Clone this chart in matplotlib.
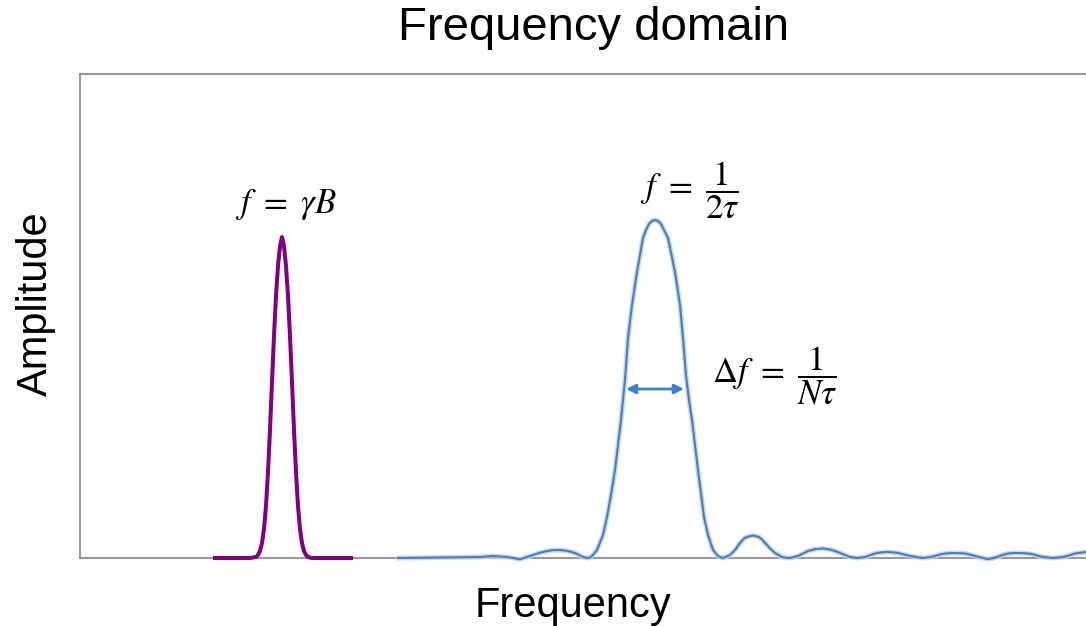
"""
Frequency domain sketch: a narrow Larmor peak and a sinc-like spectrum
with its main lobe at 1/(2*tau) and width 1/(N*tau).
"""
import matplotlib
matplotlib.use("Agg")
import matplotlib.pyplot as plt

# frequency / amplitude in arbitrary units
larmor_freq = [133, 170, 176, 178, 180, 182, 184, 186, 188, 190, 192,
               194, 196, 198, 200, 202, 204, 206, 208, 210, 212,
               214, 216, 218, 220, 222, 224, 226, 228, 230, 232,
               240, 273]
larmor_amp = [0, 0, 1, 3, 7, 15, 29, 52, 86, 128, 176,
              222, 262, 292, 312, 321, 312, 292, 262, 222, 176,
              128, 86, 52, 29, 15, 7, 3, 1, 0.5, 0,
              0, 0]

sinc_freq = [318, 400, 413, 427, 440, 453, 459, 465, 472, 480, 486,
             492, 497, 500, 504, 507, 510, 512, 517, 523, 527, 531,
             535, 541, 545, 548, 552, 557, 563, 566, 569, 572, 575,
             578, 581, 584, 588, 595, 600, 603, 606, 609, 612, 618,
             624, 628, 633, 638, 643, 650, 655, 660, 664, 667, 673,
             679, 682, 686, 690, 695, 702, 706, 710, 718, 723, 728,
             736, 743, 750, 755, 760, 770, 777, 785, 790, 795, 801,
             807, 813, 818, 824, 830, 843, 849, 855, 860, 865, 873,
             880, 885, 890, 895, 907, 912, 917, 922, 928, 934, 940,
             946, 952, 957, 963, 973, 983, 989, 995, 1006]
sinc_amp = [0, 1, 2, 1, -1.3, 3, 5, 6.5, 7.8, 8, 7.3,
            6, 4, 2.5, 0.8, 0, 0.6, 2, 8, 23, 41, 63,
            88, 138, 178, 220, 253, 286, 320, 328, 334, 337, 338,
            337, 334, 328, 320, 286, 253, 220, 183, 158, 138, 88,
            41, 23, 8, 2, 0, 3, 8, 15, 19.5, 21, 22.5,
            21, 18.5, 14, 9.5, 5, 1, 0.3, 0, 2, 4.5, 7,
            9, 9.5, 8.5, 7, 5, 1, 0, 1, 2.8, 4.5, 5.6,
            6, 5.7, 5, 3.5, 2, 0, 0.8, 2, 3.5, 4.5, 5,
            4.8, 4.5, 3.4, 2, -1, -0.5, 1, 2.8, 4.5, 5, 5,
            4.6, 4, 2.5, 1, 0, 1, 2.5, 4.5, 6]

# width marker on the main lobe
width_lo, width_hi, width_level = 546, 604, 169

plt.rcParams["mathtext.fontset"] = "stix"
plt.rcParams["font.family"] = ["Liberation Sans", "DejaVu Sans"]

fig = plt.figure(figsize=(10.86, 6.26), dpi=100)
ax = fig.add_axes([80 / 1086, 68 / 626, 1006 / 1086, 484 / 626])
ax.set_xlim(0, 1006)
ax.set_ylim(0, 484)
ax.set_xticks([])
ax.set_yticks([])
for side in ["left", "bottom", "top"]:
    ax.spines[side].set_color("#999999")
    ax.spines[side].set_linewidth(1.5)
ax.spines["right"].set_visible(False)

# purple Larmor line
ax.plot(larmor_freq, larmor_amp, color="#800080", lw=2.9,
        solid_capstyle="butt", zorder=4, clip_on=False)

# blue spectrum with a soft halo
ax.plot(sinc_freq, sinc_amp, color="#c3d4ea", lw=3.6, alpha=0.9,
        zorder=3, clip_on=False)
ax.plot(sinc_freq, sinc_amp, color="#4a7ebb", lw=1.5, zorder=4,
        clip_on=False)

ax.annotate("", xy=(width_hi, width_level), xytext=(width_lo, width_level),
            arrowprops=dict(arrowstyle="<|-|>", color="#3d7fcc", lw=2,
                            mutation_scale=14, shrinkA=0, shrinkB=0),
            zorder=5)

# formulas
ax.text(206, 353, r"$f\ =\ \gamma B$", fontsize=25, ha="center", va="center")
ax.text(610, 368, r"$f\ =\ \dfrac{1}{2\tau}$", fontsize=25,
        ha="center", va="center")
ax.text(695, 182, r"$\Delta f\ =\ \dfrac{1}{N\tau}$", fontsize=25,
        ha="center", va="center")

# title and axis labels
fig.text(594 / 1086, 1 - 40 / 626, "Frequency domain", fontsize=34,
         ha="center", va="baseline")
fig.text(573 / 1086, 1 - 617 / 626, "Frequency", fontsize=30,
         ha="center", va="baseline")
fig.text(36 / 1086, 1 - 304 / 626, "Amplitude", fontsize=30,
         ha="center", va="center", rotation=90)

fig.savefig("out.png", dpi=100, facecolor="white")
plt.close(fig)
